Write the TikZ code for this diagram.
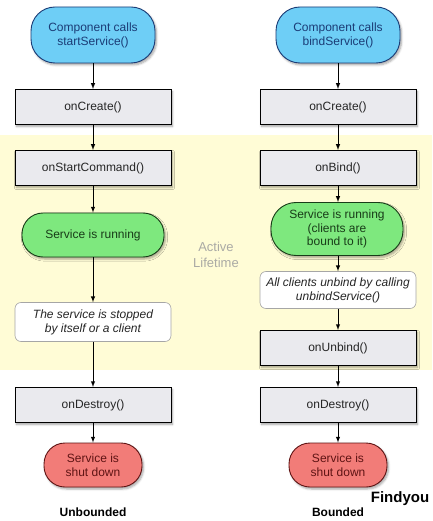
\documentclass[tikz,border=0pt]{standalone}
\usepackage{fontspec}
\setmainfont{Liberation Sans}
\usepackage{tikz}
\usetikzlibrary{shapes,arrows,calc,backgrounds,shadows.blur}

\definecolor{callblue}{RGB}{110,206,246}
\definecolor{calltext}{RGB}{27,60,118}
\definecolor{runninggreen}{RGB}{126,232,126}
\definecolor{runningtext}{RGB}{24,60,24}
\definecolor{shutred}{RGB}{242,124,120}
\definecolor{shuttext}{RGB}{95,20,20}
\definecolor{methodgray}{RGB}{234,234,238}
\definecolor{lifeyellow}{RGB}{255,252,214}
\definecolor{lifetext}{RGB}{170,170,165}

\tikzset{
    shade box/.style={blur shadow={shadow xshift=1.5pt, shadow yshift=-2pt, shadow blur steps=5, shadow opacity=35}},
    callnode/.style={shade box, draw=calltext, line width=0.9pt, fill=callblue, text=calltext,
        rounded corners=24pt, minimum width=124pt, minimum height=56pt, align=center},
    methodnode/.style={shade box, draw=black, line width=0.9pt, fill=methodgray, text=black!85,
        minimum width=156pt, minimum height=35pt, align=center},
    runningnode/.style={shade box, draw=runningtext, line width=0.9pt, fill=runninggreen, text=runningtext,
        rounded corners=21pt, minimum height=44pt, align=center},
    notenode/.style={draw=black!35, line width=0.6pt, fill=white, text=black!85, rounded corners=6pt,
        minimum width=156pt, align=center, font=\fontsize{12}{14}\selectfont\itshape},
    shutnode/.style={shade box, draw=shuttext, line width=0.9pt, fill=shutred, text=shuttext,
        rounded corners=21pt, minimum width=98pt, minimum height=44pt, align=center},
    flow/.style={-latex, line width=1pt, black},
    caption/.style={font=\fontsize{12}{14}\selectfont\bfseries}
}

\begin{document}
\begin{tikzpicture}[x=1pt, y=-1pt, font=\fontsize{12}{14}\selectfont]
    \useasboundingbox (0,0) rectangle (432,521);
    % active lifetime band
    \fill[lifeyellow] (0,135) rectangle (432,370);
    \node[text=lifetext, align=center, font=\fontsize{13}{16}\selectfont] (lifetime) at (216,255) {Active\\Lifetime};

    % unbounded service
    \node[callnode] (startcall) at (93,35) {Component calls\\startService()};
    \node[methodnode] (create1) at (93,107) {onCreate()};
    \node[methodnode] (startcmd) at (93,168) {onStartCommand()};
    \node[runningnode, minimum width=142pt] (running1) at (93,235) {Service is running};
    \node[notenode, minimum height=39pt] (stopped) at (93,322) {The service is stopped\\by itself or a client};
    \node[methodnode] (destroy1) at (93,405) {onDestroy()};
    \node[shutnode] (shut1) at (93,465) {Service is\\shut down};
    \node[caption] (unbounded) at (93,512) {Unbounded};

    % bounded service
    \node[callnode] (bindcall) at (338,35) {Component calls\\bindService()};
    \node[methodnode] (create2) at (338,107) {onCreate()};
    \node[methodnode] (bind) at (338,168) {onBind()};
    \node[runningnode, minimum width=132pt, minimum height=53pt, rounded corners=25pt, font=\fontsize{12}{13.5}\selectfont] (running2) at (337,229)
        {Service is running\\(clients are\\bound to it)};
    \node[notenode, minimum height=37pt] (unbindall) at (338,290) {All clients unbind by calling\\unbindService()};
    \node[methodnode] (unbind) at (338,348) {onUnbind()};
    \node[methodnode] (destroy2) at (338,405) {onDestroy()};
    \node[shutnode] (shut2) at (338,465) {Service is\\shut down};
    \node[caption] (bounded) at (338,512) {Bounded};

    \node[font=\fontsize{15}{17}\selectfont\bfseries] (mark) at (400,499) {Findyou};

    % connectors
    \draw[flow] (startcall) -- (create1);
    \draw[flow] (create1) -- (startcmd);
    \draw[flow] (startcmd) -- (running1);
    \draw[flow] (running1) -- (stopped);
    \draw[flow] (stopped) -- (destroy1);
    \draw[flow] (destroy1) -- (shut1);

    \draw[flow] (bindcall) -- (create2);
    \draw[flow] (create2) -- (bind);
    \draw[flow] (bind) -- (bind |- running2.north);
    \draw[flow] (bind |- running2.south) -- (unbindall);
    \draw[flow] (unbindall) -- (unbind);
    \draw[flow] (unbind) -- (destroy2);
    \draw[flow] (destroy2) -- (shut2);
\end{tikzpicture}
\end{document}
